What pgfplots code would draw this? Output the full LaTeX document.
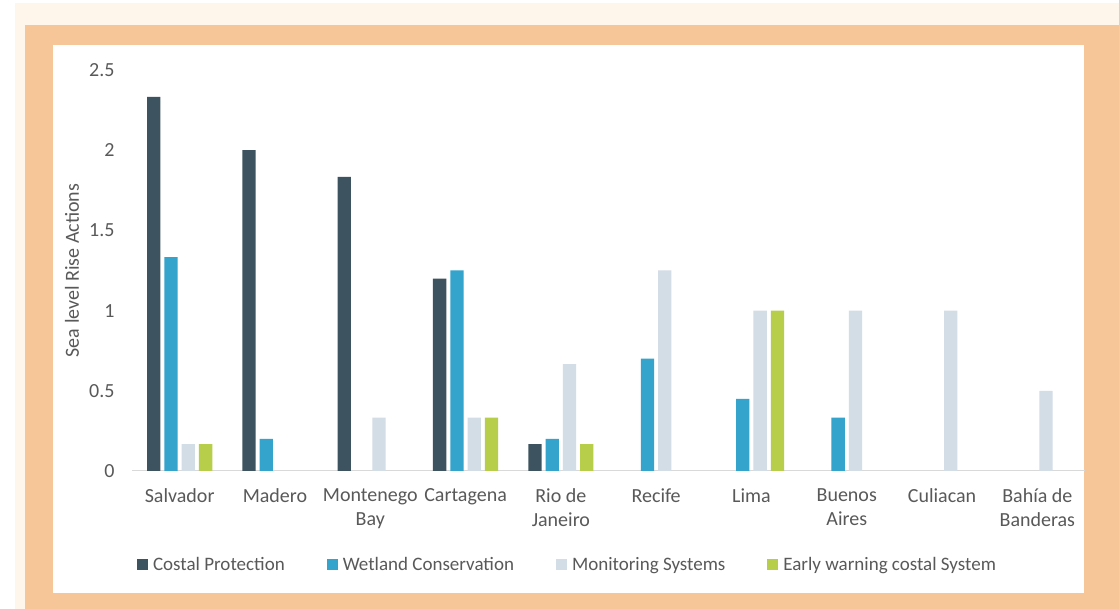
\documentclass[border=0pt]{standalone}
\usepackage{fontspec}
\setmainfont{Carlito}
\usepackage{pgfplots}
\pgfplotsset{compat=1.18}

\definecolor{cream}{HTML}{FEF6EB}
\definecolor{frame}{HTML}{F6C699}
\definecolor{cCostal}{HTML}{3E5360}
\definecolor{cWetland}{HTML}{34A4CD}
\definecolor{cMonitor}{HTML}{D3DDE6}
\definecolor{cEarly}{HTML}{B7CE4B}
\definecolor{txt}{HTML}{595959}
\definecolor{axln}{HTML}{D9D9D9}

% x: 0 Salvador ... 9 Bahia de Banderas; nan = no bar
\pgfplotstableread{
x costal wetland monitor early
0 2.333 1.333 0.167 0.167
1 2.0   0.2   nan   nan
2 1.833 nan   0.333 nan
3 1.2   1.25  0.333 0.333
4 0.167 0.2   0.667 0.167
5 nan   0.7   1.25  nan
6 nan   0.45  1.0   1.0
7 nan   0.333 1.0   nan
8 nan   nan   1.0   nan
9 nan   nan   0.5   nan
}\sealevel

\begin{document}
\begin{tikzpicture}[x=1pt,y=1pt]
  \path[use as bounding box] (0,0) rectangle (1119,609);
  \fill[white] (0,0) rectangle (1119,609);
  \fill[cream] (15,0) rectangle (1119,606);
  \fill[frame] (25,0) rectangle (1119,584);
  \fill[white] (53,16) rectangle (1084,564);

  \begin{axis}[
    at={(132pt,138pt)}, anchor=south west,
    scale only axis,
    width=953pt, height=401pt,
    xmin=-0.5, xmax=9.5,
    ymin=0, ymax=2.5,
    ytick={0,0.5,...,2.5},
    xtick={0,...,9},
    xticklabels={Salvador,Madero,{Montenego\\Bay},Cartagena,{Rio de\\Janeiro},Recife,Lima,{Buenos\\Aires},Culiacan,{Bahía de\\Banderas}},
    unbounded coords=jump,
    ybar=4pt, bar width=13.3pt,
    axis x line*=bottom, axis y line*=left,
    x axis line style={draw=axln, line width=1pt},
    y axis line style={draw=none},
    major tick length=0pt,
    font=\fontsize{20}{24}\selectfont,
    tick label style={text=txt},
    /pgf/number format/assume math mode=true,
    yticklabel style={xshift=-14pt},
    xticklabel style={align=center, yshift=-14pt},
    ylabel={Sea level Rise Actions},
    ylabel style={text=txt, at={(axis description cs:-0.063,0.5)}, anchor=center},
    legend columns=4,
    legend style={draw=none, fill=none, at={(axis description cs:0.457,-0.234)}, anchor=center,
      text=txt, font=\fontsize{19}{22}\selectfont,
      /tikz/every odd column/.append style={column sep=3pt},
      /tikz/every even column/.append style={column sep=40pt}},
    legend image code/.code={\fill[#1] (0pt,-5.5pt) rectangle (11pt,5.5pt);},
  ]
    \addplot[fill=cCostal, draw=none] table[x=x,y=costal] {\sealevel};
    \addplot[fill=cWetland, draw=none] table[x=x,y=wetland] {\sealevel};
    \addplot[fill=cMonitor, draw=none] table[x=x,y=monitor] {\sealevel};
    \addplot[fill=cEarly, draw=none] table[x=x,y=early] {\sealevel};
    \legend{Costal Protection, Wetland Conservation, Monitoring Systems, Early warning costal System}
  \end{axis}
\end{tikzpicture}
\end{document}
